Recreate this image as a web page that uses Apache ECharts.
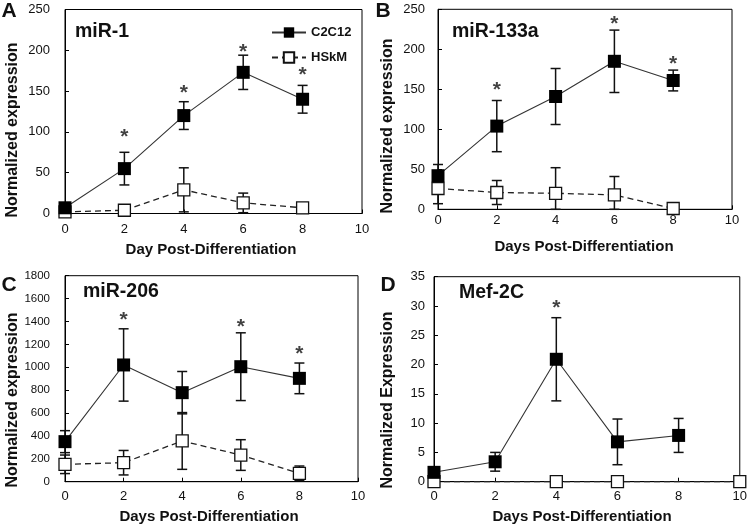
<!DOCTYPE html>
<html><head><meta charset="utf-8">
<script src="https://cdn.jsdelivr.net/npm/echarts@6/dist/echarts.min.js"></script>
<style>html,body{margin:0;padding:0;background:#fff}#c{width:750px;height:529px}</style>
</head><body><div id="c"></div>
<script>
// ---------- data ----------
const days = [0, 2, 4, 6, 8];
const xTickMax = 10;

// Panel A: miR-1
const aC2C12 = [7, 55, 120, 173, 140];
const aC2C12Err = [3, 20, 17, 21, 17];
const aHSkM = [2, 4, 29, 13, 7];
const aHSkMErr = [0, 0, 27, 12, 0];
const aStarDays = [2, 4, 6, 8];
const aStarY = [100, 153, 204, 176];

// Panel B: miR-133a
const bC2C12 = [42, 104, 141, 185, 161];
const bC2C12Err = [14, 32, 35, 39, 13];
const bHSkM = [26, 21, 20, 18, 1];
const bHSkMErr = [19, 15, 32, 23, 0];
const bStarDays = [2, 6, 8];
const bStarY = [155, 237, 187];

// Panel C: miR-206
const cC2C12 = [350, 1020, 778, 1005, 903];
const cC2C12Err = [96, 316, 185, 296, 134];
const cHSkM = [152, 166, 356, 233, 73];
const cHSkMErr = [81, 107, 248, 134, 64];
const cStarDays = [2, 6, 8];
const cStarY = [1457, 1398, 1157];

// Panel D: Mef-2C
const dC2C12 = [1.6, 3.4, 20.9, 6.8, 7.9];
const dC2C12Err = [0, 1.6, 7.1, 3.9, 2.9];
const dHSkMDays = [0, 4, 6, 10];
const dHSkM = [0, 0, 0, 0];
const dStarDays = [4];
const dStarY = [30.5];

// ---------- chart ----------
const FONT = "'Liberation Sans', Arial, sans-serif";
const INK = '#111';
const grids = [], xAxes = [], yAxes = [], series = [];

function errSeries(i, xs, means, errs) {
  return {
    type: 'custom', xAxisIndex: i, yAxisIndex: i, z: 1, silent: true,
    encode: { x: 0, y: 1 },
    data: xs.map((d, k) => [d, means[k], errs[k]]),
    renderItem: function (params, api) {
      const x = api.value(0), m = api.value(1), e = api.value(2);
      if (!e) return null;
      const lo = Math.max(0, m - e), hi = m + e;
      const pt = api.coord([x, hi]), pb = api.coord([x, lo]);
      const w = 5, st = { stroke: INK, lineWidth: 1.5 };
      return { type: 'group', children: [
        { type: 'line', shape: { x1: pt[0], y1: pt[1], x2: pb[0], y2: pb[1] }, style: st },
        { type: 'line', shape: { x1: pt[0] - w, y1: pt[1], x2: pt[0] + w, y2: pt[1] }, style: st },
        { type: 'line', shape: { x1: pb[0] - w, y1: pb[1], x2: pb[0] + w, y2: pb[1] }, style: st }
      ]};
    }
  };
}

function addPanel(i, p) {
  grids.push({ left: p.grid[0], top: p.grid[1], width: p.grid[2], height: p.grid[3],
    show: true, borderColor: '#000', borderWidth: 1, backgroundColor: 'transparent' });
  xAxes.push({ type: 'value', gridIndex: i, min: 0, max: xTickMax, interval: 2,
    axisLine: { show: true, lineStyle: { color: '#000', width: 1 } },
    axisTick: { show: true, inside: true, length: 4, lineStyle: { color: '#000' } },
    axisLabel: { color: INK, fontSize: 13, fontFamily: FONT, margin: p.xm, formatter: v => String(v) },
    splitLine: { show: false } });
  yAxes.push({ type: 'value', gridIndex: i, min: 0, max: p.ymax, interval: p.yint,
    axisLine: { show: true, lineStyle: { color: '#000', width: 1 } },
    axisTick: { show: true, inside: true, length: 4, lineStyle: { color: '#000' } },
    axisLabel: { color: INK, fontSize: p.yfs || 13, fontFamily: FONT, margin: p.ym, formatter: v => String(v) },
    splitLine: { show: false } });
  series.push(errSeries(i, days, p.c, p.ce));
  series.push(errSeries(i, p.hx, p.h, p.he));
  series.push({ name: 'HSkM', type: 'line', xAxisIndex: i, yAxisIndex: i, z: 3, clip: false,
    data: p.hx.map((d, k) => [d, p.h[k]]),
    symbol: 'rect', symbolSize: 12,
    itemStyle: { color: '#fff', borderColor: INK, borderWidth: 1.3 },
    lineStyle: { color: '#222', width: 1.3, type: [6, 4] } });
  series.push({ name: 'C2C12', type: 'line', xAxisIndex: i, yAxisIndex: i, z: 4, clip: false,
    data: days.map((d, k) => [d, p.c[k]]),
    symbol: 'rect', symbolSize: 13,
    itemStyle: { color: '#000', borderColor: '#000', borderWidth: 0 },
    lineStyle: { color: '#333', width: 1.1, type: 'solid' } });
  series.push({ type: 'scatter', xAxisIndex: i, yAxisIndex: i, z: 5, silent: true,
    data: p.sx.map((d, k) => [d, p.sy[k]]), symbolSize: 0,
    label: { show: true, formatter: '*', position: 'inside', offset: [0, 5],
      color: INK, fontSize: 21, fontWeight: 'bold', fontFamily: FONT } });
}

addPanel(0, { grid: [65, 9.5, 297, 204], ymax: 250, yint: 50, xm: 9, ym: 15,
  c: aC2C12, ce: aC2C12Err, hx: days, h: aHSkM, he: aHSkMErr, sx: aStarDays, sy: aStarY });
addPanel(1, { grid: [438, 9.3, 294, 200], ymax: 250, yint: 50, xm: 5, ym: 13,
  c: bC2C12, ce: bC2C12Err, hx: days, h: bHSkM, he: bHSkMErr, sx: bStarDays, sy: bStarY });
addPanel(2, { grid: [65, 275.7, 293, 206], ymax: 1800, yint: 200, xm: 8, ym: 15, yfs: 11.5,
  c: cC2C12, ce: cC2C12Err, hx: days, h: cHSkM, he: cHSkMErr, sx: cStarDays, sy: cStarY });
addPanel(3, { grid: [434, 276.7, 309, 205], ymax: 35, yint: 5, xm: 8, ym: 9,
  c: dC2C12, ce: dC2C12Err, hx: dHSkMDays, h: dHSkM, he: dHSkM.map(() => 0), sx: dStarDays, sy: dStarY });

function txt(x, y, s, size, opts) {
  return Object.assign({ type: 'text', x: x, y: y, rotation: 0, silent: true,
    style: { text: s, fill: INK, font: 'bold ' + size + 'px ' + FONT,
      textAlign: 'center', textVerticalAlign: 'middle' } }, opts || {});
}
function ytitle(x, y, s) {
  const t = txt(x, y, s, 16);
  t.rotation = Math.PI / 2;
  return t;
}
function ptitle(x, y, s) {
  const t = txt(x, y, s, 19.5);
  t.style.textAlign = 'left';
  return t;
}

const graphics = [
  txt(9, 11, 'A', 21), txt(383, 11, 'B', 21), txt(9, 285, 'C', 21), txt(388, 285, 'D', 21),
  ptitle(75, 32, 'miR-1'), ptitle(452, 32, 'miR-133a'), ptitle(83, 292, 'miR-206'), ptitle(459, 293, 'Mef-2C'),
  txt(211, 250, 'Day Post-Differentiation', 15), txt(584, 247, 'Days Post-Differentiation', 15),
  txt(209, 517, 'Days Post-Differentiation', 15), txt(582, 517, 'Days Post-Differentiation', 15),
  ytitle(13, 130, 'Normalized expression'), ytitle(388, 126, 'Normalized expression'),
  ytitle(13, 400, 'Normalized expression'), ytitle(388, 400, 'Normalized Expression')
];

const chart = echarts.init(document.getElementById('c'), null, { renderer: 'canvas' });
chart.setOption({
  animation: false,
  backgroundColor: '#fff',
  grid: grids, xAxis: xAxes, yAxis: yAxes, series: series,
  legend: { data: ['C2C12', 'HSkM'], orient: 'vertical', left: 266, top: 21,
    itemWidth: 34, itemHeight: 13, itemGap: 12, selectedMode: false,
    textStyle: { color: INK, fontSize: 13, fontWeight: 'bold', fontFamily: FONT } },
  graphic: graphics
});
</script>
</body></html>
